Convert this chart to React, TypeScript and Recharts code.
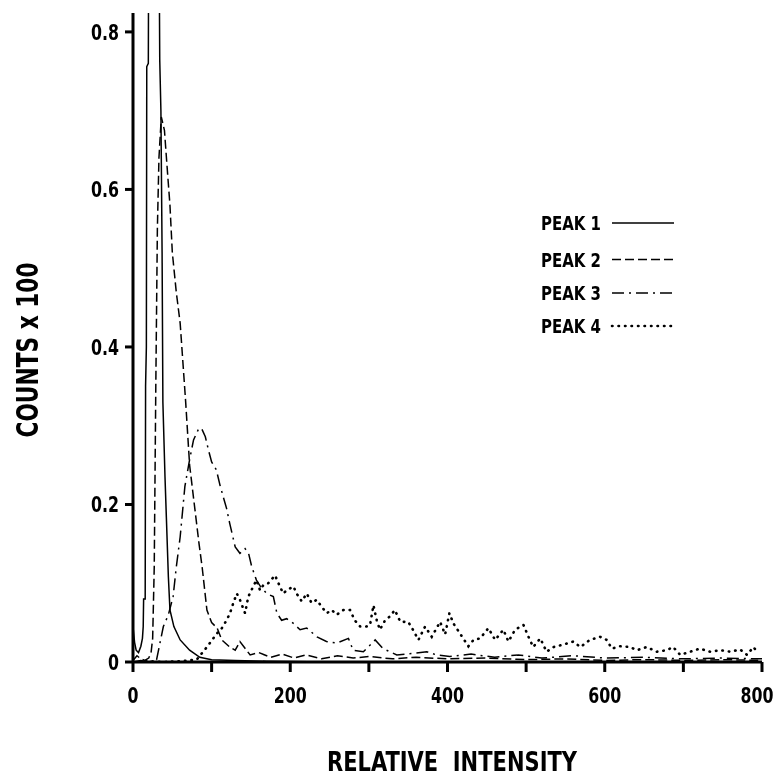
import React from "react"
import { LineChart, Line, XAxis, YAxis } from "recharts"

const peak1X = [0, 2, 4, 7, 10, 12, 13, 13.5, 15.5, 16, 17, 17.5, 19.5, 20, 33, 34, 35.5, 37, 38, 40.7, 45, 47, 52, 60, 72, 85, 100, 130, 170, 250, 400, 600, 800]
const peak1Y = [0.045, 0.025, 0.015, 0.012, 0.02, 0.03, 0.045, 0.08, 0.08, 0.35, 0.4, 0.756, 0.76, 0.95, 0.95, 0.765, 0.7, 0.52, 0.33, 0.235, 0.108, 0.066, 0.045, 0.028, 0.015, 0.006, 0.003, 0.002, 0.001, 0, 0, 0, 0]

const peak2X = [0, 5, 10, 15, 20, 23, 25, 27, 29, 31, 33, 36, 40, 44, 47, 50, 55, 60, 67, 72, 78, 84, 88, 94, 100, 107, 113, 123, 130, 136, 142, 149, 160, 175, 190, 205, 220, 240, 260, 280, 300, 330, 360, 400, 450, 500, 550, 600, 650, 700, 750, 800]
const peak2Y = [0.002, 0.008, 0.004, 0.002, 0.005, 0.012, 0.03, 0.12, 0.35, 0.55, 0.64, 0.692, 0.675, 0.62, 0.58, 0.52, 0.47, 0.43, 0.33, 0.25, 0.2, 0.15, 0.12, 0.066, 0.05, 0.043, 0.028, 0.019, 0.015, 0.026, 0.018, 0.009, 0.012, 0.006, 0.01, 0.005, 0.009, 0.004, 0.008, 0.005, 0.007, 0.004, 0.006, 0.004, 0.005, 0.003, 0.004, 0.002, 0.003, 0.002, 0.003, 0.002]

const peak3X = [0, 10, 20, 30, 38.6, 45, 51, 55, 60, 66, 72, 77, 83, 87, 92, 96, 100, 106, 111, 119, 123, 130, 136, 142.5, 147, 151, 157, 162, 170, 178.5, 183, 189, 195.5, 204, 212.5, 221, 234, 246, 259, 274, 280, 293, 308, 318, 335.5, 357, 373.6, 386, 403, 430, 460, 490, 520, 560, 600, 650, 700, 750, 800]
const peak3Y = [0, 0.002, 0, 0.003, 0.045, 0.06, 0.083, 0.12, 0.159, 0.223, 0.257, 0.282, 0.295, 0.297, 0.286, 0.269, 0.254, 0.244, 0.223, 0.195, 0.176, 0.146, 0.138, 0.144, 0.138, 0.121, 0.104, 0.096, 0.087, 0.083, 0.062, 0.053, 0.055, 0.049, 0.041, 0.043, 0.032, 0.026, 0.024, 0.03, 0.015, 0.013, 0.028, 0.017, 0.009, 0.011, 0.013, 0.009, 0.007, 0.01, 0.006, 0.009, 0.005, 0.008, 0.005, 0.006, 0.004, 0.005, 0.004]

const peak4X = [0, 20, 40, 60, 81, 94, 106.5, 113, 119, 123.4, 127.6, 132, 136, 142.5, 146.7, 153, 157, 161.6, 166, 172, 180.7, 185, 191, 195.5, 204, 208, 214.6, 221, 227, 233.7, 240, 246.4, 252.8, 259, 267.6, 276, 282, 289, 297, 301.5, 305.8, 310, 314, 320.6, 327, 333, 340, 350, 356, 363, 371.5, 380, 390.6, 397, 402.4, 407.5, 416, 426.6, 433, 441.5, 452, 460.6, 471, 477.5, 486, 496.6, 503, 509, 518, 526, 535, 547, 560, 569, 581, 594, 602.6, 609, 619.6, 632, 641, 653.5, 666, 679, 687, 696, 708.6, 721, 734, 747, 760, 772, 781, 789, 795.5]
const peak4Y = [0, 0.001, 0, 0.001, 0.003, 0.019, 0.036, 0.043, 0.053, 0.062, 0.075, 0.087, 0.079, 0.062, 0.083, 0.096, 0.104, 0.091, 0.098, 0.1, 0.11, 0.1, 0.087, 0.091, 0.096, 0.087, 0.077, 0.087, 0.075, 0.079, 0.07, 0.062, 0.066, 0.06, 0.066, 0.066, 0.053, 0.045, 0.045, 0.047, 0.072, 0.053, 0.041, 0.053, 0.058, 0.066, 0.051, 0.051, 0.041, 0.028, 0.045, 0.032, 0.051, 0.035, 0.062, 0.049, 0.036, 0.02, 0.028, 0.03, 0.043, 0.028, 0.041, 0.026, 0.041, 0.047, 0.032, 0.019, 0.03, 0.013, 0.019, 0.022, 0.026, 0.019, 0.028, 0.032, 0.028, 0.017, 0.02, 0.019, 0.015, 0.019, 0.013, 0.015, 0.019, 0.009, 0.013, 0.017, 0.013, 0.015, 0.013, 0.016, 0.009, 0.019, 0.011]

const xTicks = [0, 100, 200, 300, 400, 500, 600, 700, 800]
const yTicks = [0, 0.2, 0.4, 0.6, 0.8]
const peakNames = ["PEAK 1", "PEAK 2", "PEAK 3", "PEAK 4"]

const zip = (xs: number[], ys: number[]) => xs.map((x, i) => ({ x, y: ys[i] }))

// no narrow bold face installed, so squeeze DejaVu Condensed to the original widths
const font = "'DejaVu Sans Condensed', 'DejaVu Sans', sans-serif"
const dashes = ["", "9 4", "12 5 2 5", "0.5 6"]
const legendY = [215, 251.5, 285, 318]

const numWidth = (s: string) => s.replace(/\./g, "").length * 11 + (s.includes(".") ? 6 : 0)

const XTick = (props: any) => {
  const { x, y, payload } = props
  const v = payload.value
  if (v % 200 !== 0) return null
  const s = String(v)
  // the last label sits a little left of its tick, as in the original
  const dx = v === 800 ? -5 : 0
  return (
    <text x={x + dx} y={y} dy="0.71em" textAnchor="middle" fontFamily={font} fontWeight={700} fontSize={22}
      textLength={numWidth(s)} lengthAdjust="spacingAndGlyphs">
      {s}
    </text>
  )
}

const YTick = (props: any) => {
  const { x, y, payload } = props
  const v = payload.value
  const s = v === 0 ? "0" : v.toFixed(1)
  return (
    <text x={x} y={y} dy="0.355em" textAnchor="end" fontFamily={font} fontWeight={700} fontSize={22}
      textLength={numWidth(s)} lengthAdjust="spacingAndGlyphs">
      {s}
    </text>
  )
}

export default function App() {
  const series = [zip(peak1X, peak1Y), zip(peak2X, peak2Y), zip(peak3X, peak3Y), zip(peak4X, peak4Y)]

  // fixed so the 768px chart does not make the page scroll
  return (
    <div style={{ position: "fixed", left: 8, top: 8 }}>
      <LineChart width={771} height={768} margin={{ top: 5, right: 17, left: 45, bottom: 54 }}>
        <XAxis
          type="number"
          dataKey="x"
          domain={[0, 800]}
          ticks={xTicks}
          interval={0}
          stroke="#000"
          strokeWidth={3}
          tickSize={10}
          tickMargin={15}
          height={60}
          tick={XTick}
          allowDuplicatedCategory={false}
        />
        <YAxis
          type="number"
          dataKey="y"
          domain={[0, 0.824]}
          allowDataOverflow
          ticks={yTicks}
          interval={0}
          stroke="#000"
          strokeWidth={3}
          tickSize={8}
          tickMargin={6}
          width={80}
          tick={YTick}
        />
        {series.map((d, i) => (
          <Line
            key={peakNames[i]}
            data={d}
            dataKey="y"
            type="linear"
            stroke="#000"
            strokeWidth={i === 3 ? 2.6 : 1.5}
            strokeDasharray={dashes[i] || undefined}
            strokeLinecap={i === 3 ? "round" : "butt"}
            dot={false}
            activeDot={false}
            isAnimationActive={false}
          />
        ))}
        <g fontFamily={font} fontWeight={700} fill="#000">
          {peakNames.map((name, i) => (
            <g key={name}>
              <text x={533} y={legendY[i] + 7} fontSize={19} textLength={60} lengthAdjust="spacingAndGlyphs">
                {name}
              </text>
              <line
                x1={604}
                x2={666}
                y1={legendY[i]}
                y2={legendY[i]}
                stroke="#000"
                strokeWidth={i === 3 ? 2.6 : 1.5}
                strokeDasharray={dashes[i] || undefined}
                strokeLinecap={i === 3 ? "round" : "butt"}
              />
            </g>
          ))}
          <text x={444} y={763} fontSize={27} textAnchor="middle" textLength={250} lengthAdjust="spacingAndGlyphs"
            style={{ whiteSpace: "pre" }}>
            {"RELATIVE  INTENSITY"}
          </text>
          <text x={30} y={342} fontSize={31} textAnchor="middle" textLength={175} lengthAdjust="spacingAndGlyphs"
            transform="rotate(-90, 30, 342)">
            COUNTS x 100
          </text>
        </g>
      </LineChart>
    </div>
  )
}
